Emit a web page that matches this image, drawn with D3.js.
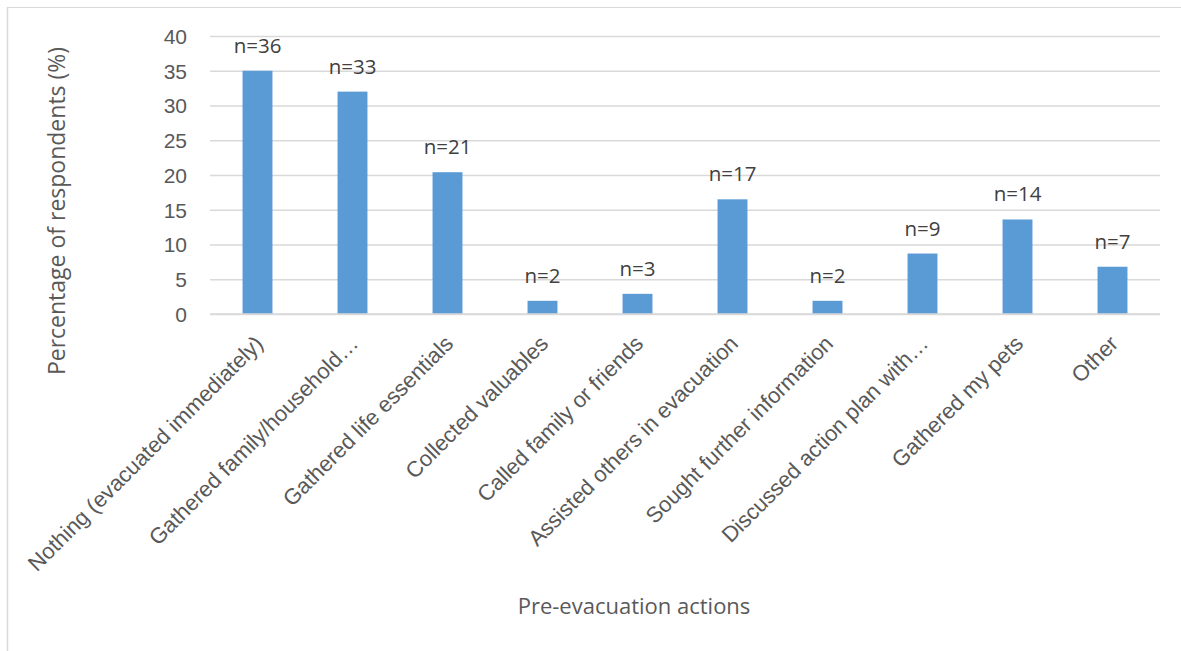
<!DOCTYPE html>
<html>
<head>
<meta charset="utf-8">
<script src="https://cdn.jsdelivr.net/npm/d3@7"></script>
<style>
  html, body { margin: 0; padding: 0; background: #fff; }
  svg { display: block; font-family: "Open Sans", "Noto Sans", sans-serif; }
</style>
</head>
<body>
<svg id="chart" width="1181" height="651"></svg>
<script>
// Pre-evacuation actions reported by respondents
const categories = [
  "Nothing (evacuated immediately)",
  "Gathered family/household…",
  "Gathered life essentials",
  "Collected valuables",
  "Called family or friends",
  "Assisted others in evacuation",
  "Sought further information",
  "Discussed action plan with…",
  "Gathered my pets",
  "Other"
];
const percentages = [35.0, 32.0, 20.4, 1.9, 2.9, 16.5, 1.9, 8.7, 13.6, 6.8];
const counts = [36, 33, 21, 2, 3, 17, 2, 9, 14, 7];
const yTicks = [0, 5, 10, 15, 20, 25, 30, 35, 40];

const svg = d3.select("#chart");
const textColor = "#595959";
const gridColor = "#d9d9d9";
const barColor = "#5b9bd5";

const plot = { left: 210, right: 1160, top: 36, bottom: 314 };

const x = d3.scaleBand()
  .domain(categories)
  .range([plot.left, plot.right])
  .paddingInner(0.685)
  .paddingOuter(0.3425);

const y = d3.scaleLinear()
  .domain([0, 40])
  .range([plot.bottom, plot.top]);

// outer frame (top and left edges)
svg.append("line")
  .attr("x1", 7).attr("x2", 1181).attr("y1", 7.5).attr("y2", 7.5)
  .attr("stroke", gridColor).attr("stroke-width", 1.2);
svg.append("line")
  .attr("x1", 7.5).attr("x2", 7.5).attr("y1", 7).attr("y2", 651)
  .attr("stroke", gridColor).attr("stroke-width", 1.5);

// horizontal gridlines
const yAxis = d3.axisLeft(y)
  .tickValues(yTicks)
  .tickSize(-(plot.right - plot.left))
  .tickPadding(23)
  .tickFormat(d3.format("d"));

const gy = svg.append("g")
  .attr("transform", `translate(${plot.left},0)`)
  .call(yAxis);
gy.select(".domain").remove();
gy.selectAll(".tick line")
  .attr("stroke", gridColor)
  .attr("stroke-width", 1.5);
gy.selectAll(".tick text")
  .attr("fill", textColor)
  .style("font-size", "21px")
  .attr("dy", "0.35em");

// category axis
const xAxis = d3.axisBottom(x).tickSize(0).tickPadding(0);
const gx = svg.append("g")
  .attr("transform", `translate(0,${plot.bottom})`)
  .call(xAxis);
gx.select(".domain").remove();
gx.selectAll(".tick text")
  .attr("fill", textColor)
  .style("font-size", "22px")
  .attr("text-anchor", "end")
  .attr("dy", null)
  .attr("y", 0)
  .attr("transform", "translate(7,31) rotate(-45)");

// bars
svg.append("g")
  .selectAll("rect")
  .data(categories)
  .join("rect")
  .attr("x", d => x(d))
  .attr("width", x.bandwidth())
  .attr("y", (d, i) => y(percentages[i]))
  .attr("height", (d, i) => y(0) - y(percentages[i]))
  .attr("fill", barColor);

// baseline
svg.append("line")
  .attr("x1", plot.left).attr("x2", plot.right)
  .attr("y1", y(0)).attr("y2", y(0))
  .attr("stroke", gridColor).attr("stroke-width", 1.5);

// count labels above bars
svg.append("g")
  .selectAll("text")
  .data(categories)
  .join("text")
  .attr("x", d => x(d) + x.bandwidth() / 2)
  .attr("y", (d, i) => y(percentages[i]) - 18)
  .attr("text-anchor", "middle")
  .attr("fill", "#404040")
  .style("font-size", "20.5px")
  .text((d, i) => `n=${counts[i]}`);

// axis titles
svg.append("text")
  .attr("transform", "translate(65,211) rotate(-90)")
  .attr("text-anchor", "middle")
  .attr("fill", textColor)
  .style("font-size", "23px")
  .text("Percentage of respondents (%)");

svg.append("text")
  .attr("x", 634)
  .attr("y", 614)
  .attr("text-anchor", "middle")
  .attr("fill", textColor)
  .style("font-size", "22px")
  .text("Pre-evacuation actions");
</script>
</body>
</html>
